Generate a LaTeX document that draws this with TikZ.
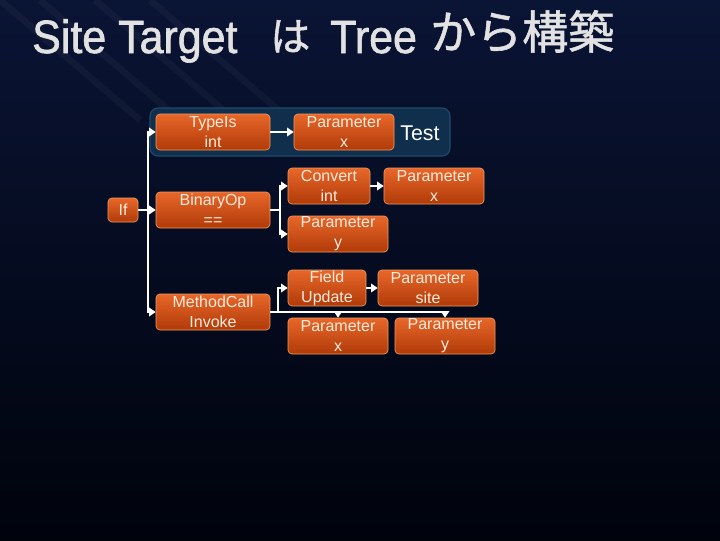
\documentclass[tikz,border=0pt]{standalone}
\usepackage{fontspec}
\setmainfont{Liberation Sans}
\newfontfamily\titlefont[FakeBold=1.4]{Liberation Sans}
\newfontfamily\jpfont[FakeBold=1.2]{Noto Sans CJK JP}
\usetikzlibrary{arrows.meta}
\definecolor{boxtop}{HTML}{E8672A}
\definecolor{boxbot}{HTML}{B03A08}
\definecolor{boxline}{HTML}{F29A60}
\definecolor{boxtext}{HTML}{FAEBDD}
\definecolor{bgtop}{HTML}{0A1434}
\definecolor{bgmid}{HTML}{0F3068}
\definecolor{bgbot}{HTML}{00030C}
\definecolor{panelfill}{HTML}{0F2F4C}
\definecolor{panelline}{HTML}{1F4C6A}
\definecolor{titlegray}{HTML}{E2E2E2}
\tikzset{%
  treebox/.style={draw=boxline, line width=0.5pt, rounded corners=3pt,
                  top color=boxtop, bottom color=boxbot, text=boxtext,
                  align=center, inner sep=0pt, minimum height=27pt,
                  font=\fontsize{12}{15}\selectfont},
  titletext/.style={anchor=base west, text=titlegray, inner sep=0pt,
                    font=\titlefont\fontsize{35}{36}\selectfont},
  link/.style={draw=white, line width=2.2pt},
  arr/.style={link, -{Triangle[length=5pt,width=6.5pt]}},
}

\begin{document}
\begin{tikzpicture}[x=0.75pt, y=-0.75pt]

    % background
    \useasboundingbox (0,0) rectangle (720,540);
    \shade[top color=bgtop, middle color=bgmid, bottom color=bgbot] (0,0) rectangle (720,540);
    \foreach \dx in {0,40,95,150}
      \draw[white, opacity=0.035, line width=5pt] (\dx,0) -- ++(140,120);

    % title
    \node[titletext, xscale=0.92] (title1) at (32,53) {Site Target};
    \node[titletext, font=\jpfont\fontsize{30}{32}\selectfont] (title2) at (270,51) {は};
    \node[titletext, xscale=0.92] (title3) at (330,53) {Tree};
    \node[titletext, font=\jpfont\fontsize{34.5}{36}\selectfont] (title4) at (430,49) {から構築};

    % panel of the test
    \draw[fill=panelfill, draw=panelline, line width=0.8pt, rounded corners=6pt]
      (150,108) rectangle (450,156);
    \node[text=white, font=\fontsize{16}{18}\selectfont] (test) at (420,133) {Test};

    % nodes of the tree
    \node[treebox, minimum width=85.5pt] (typeis) at (213,132) {TypeIs\\int};
    \node[treebox, minimum width=22.5pt, minimum height=18pt] (ifn) at (123,210) {If};
    \node[treebox, minimum width=85.5pt] (binop) at (213,210) {BinaryOp\\==};
    \node[treebox, minimum width=85.5pt] (mcall) at (213,312) {MethodCall\\Invoke};
    \node[treebox, minimum width=75pt] (parx) at (344,132) {Parameter\\x};
    \node[treebox, minimum width=61.5pt] (conv) at (329,186) {Convert\\int};
    \node[treebox, minimum width=75pt] (convx) at (434,186) {Parameter\\x};
    \node[treebox, minimum width=75pt] (pary) at (338,234) {Parameter\\y};
    \node[treebox, minimum width=58.5pt] (field) at (327,288) {Field\\Update};
    \node[treebox, minimum width=75pt] (site) at (428,288) {Parameter\\site};
    \node[treebox, minimum width=75pt] (argx) at (338,336) {Parameter\\x};
    \node[treebox, minimum width=75pt] (argy) at (445,336) {Parameter\\y};

    % junctions
    \coordinate (forkif) at (148,210);
    \coordinate (forkop) at (280,210);
    \coordinate (forkmc) at (278,312);

    % connectors
    \draw[arr] (ifn) -- (binop);
    \draw[arr] (forkif) |- (typeis.west);
    \draw[arr] (forkif) |- (mcall.west);
    \draw[arr] (typeis) -- (parx);
    \draw[link] (binop.east) -- (forkop);
    \draw[arr] (forkop) |- (conv.west);
    \draw[arr] (forkop) |- (pary.west);
    \draw[arr] (conv) -- (convx);
    \draw[link] (mcall.east) -- (argy.north |- mcall.east);
    \draw[arr] (forkmc) |- (field.west);
    \draw[arr] (field) -- (site);
    \draw[arr] (argx.north |- mcall.east) -- (argx.north);
    \draw[arr] (argy.north |- mcall.east) -- (argy.north);

\end{tikzpicture}
\end{document}
